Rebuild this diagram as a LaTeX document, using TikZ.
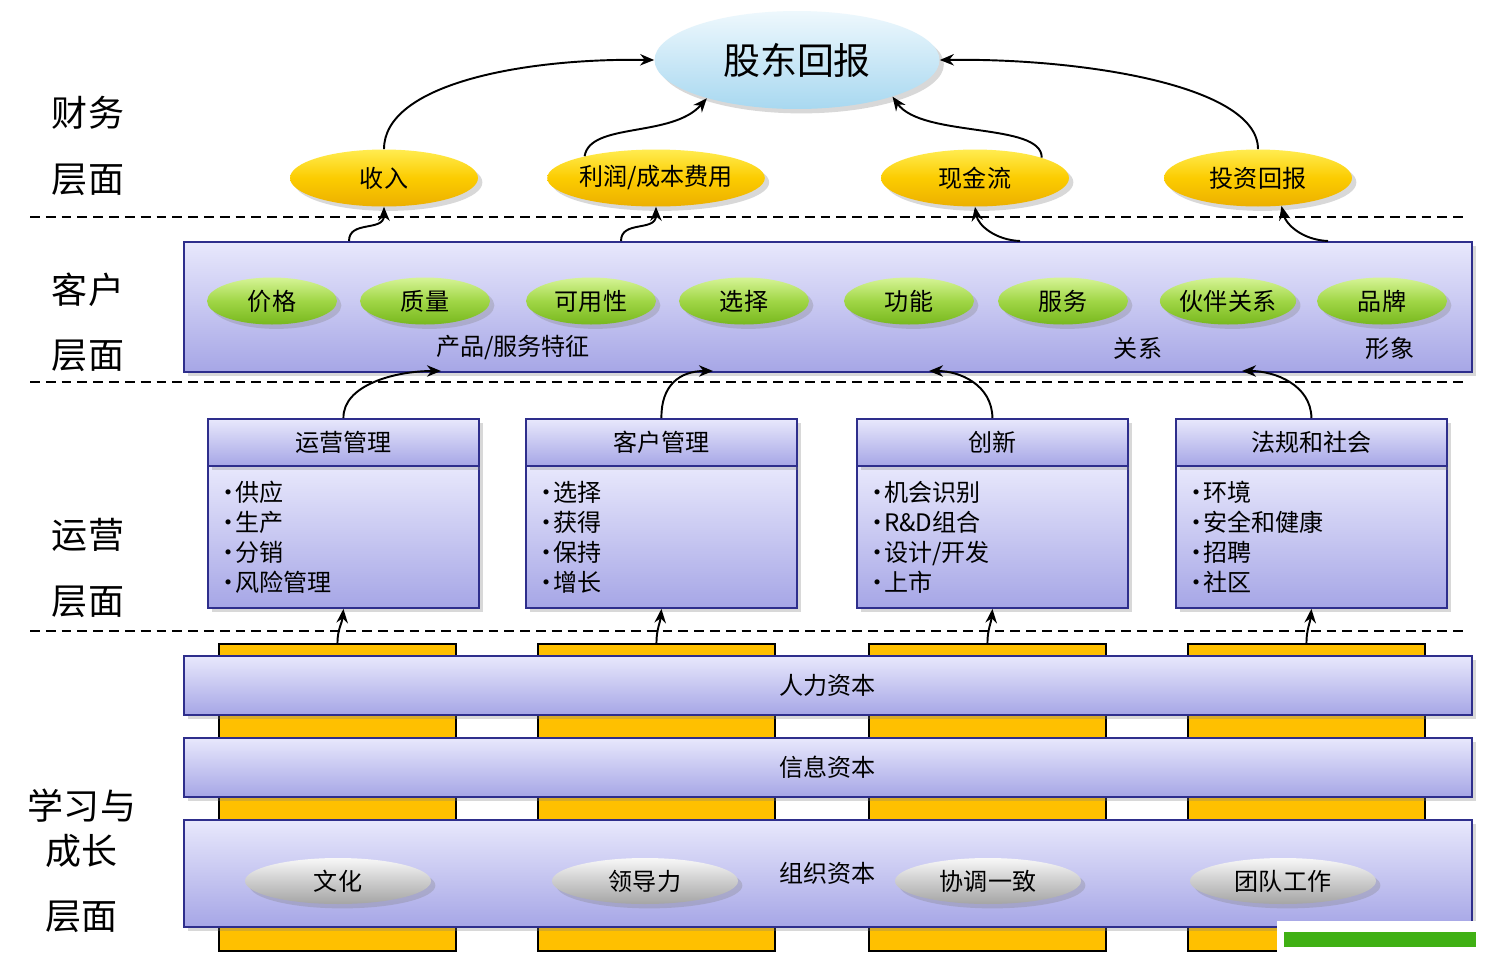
\documentclass[tikz,border=0pt]{standalone}
\usepackage{fontspec}
\setmainfont{Noto Sans CJK SC}
\usetikzlibrary{shapes.geometric,shadows,arrows.meta}
\definecolor{navy}{RGB}{46,46,140}
\definecolor{lavtop}{RGB}{232,232,252}
\definecolor{lavbot}{RGB}{166,166,230}
\definecolor{barfill}{RGB}{255,192,0}
\definecolor{goldtop}{RGB}{255,236,80}
\definecolor{goldmid}{RGB}{252,204,0}
\definecolor{goldbot}{RGB}{236,176,0}
\definecolor{greentop}{RGB}{214,244,150}
\definecolor{greenmid}{RGB}{160,214,70}
\definecolor{greenbot}{RGB}{120,184,30}
\definecolor{graytop}{RGB}{248,248,248}
\definecolor{graymid}{RGB}{205,205,205}
\definecolor{graybot}{RGB}{165,165,165}
\definecolor{bluetop}{RGB}{238,248,253}
\definecolor{bluebot}{RGB}{168,216,240}
\definecolor{wmgreen}{RGB}{64,176,20}
\newcommand{\fsz}[1]{\fontsize{#1}{#1}\selectfont}
\newcommand{\bul}{\makebox[0.5em][c]{•}}
\begin{document}
\begin{tikzpicture}[x=0.02cm,y=-0.02cm,
  conn/.style={line width=1.1pt,-{Stealth[length=8pt,width=6.5pt]}},
  sepline/.style={line width=1.1pt,dash pattern=on 5.6pt off 3.4pt},
  shad/.style={drop shadow={opacity=0.3,shadow xshift=2.5pt,shadow yshift=-2.5pt}},
  lav/.style={draw=navy,line width=1.1pt,top color=lavtop,bottom color=lavbot,shad},
  band/.style={lav,rectangle,anchor=north west,inner sep=0,minimum width=25.76cm,font=\fsz{13.7}},
  bar/.style={draw=black,line width=1.1pt,fill=barfill,rectangle,anchor=north west,inner sep=0,minimum width=4.74cm,minimum height=6.14cm},
  head/.style={lav,rectangle,anchor=north west,inner sep=0,minimum width=5.42cm,minimum height=0.94cm,font=\fsz{13.7}},
  body/.style={lav,rectangle,anchor=north west,inner xsep=0.3cm,inner ysep=0,text width=4.82cm,minimum height=2.84cm,align=left,font=\fontsize{13.7}{17.07}\selectfont},
  topell/.style={ellipse,inner sep=0,minimum width=5.7cm,minimum height=1.96cm,top color=bluetop,bottom color=bluebot,shad,font=\fsz{21}},
  goldell/.style={ellipse,inner sep=0,minimum width=3.76cm,minimum height=1.14cm,top color=goldtop,bottom color=goldbot,middle color=goldmid,shad,font=\fsz{13.7}},
  greenell/.style={ellipse,inner sep=0,minimum width=2.6cm,minimum height=0.94cm,top color=greentop,bottom color=greenbot,middle color=greenmid,shad,font=\fsz{13.7}},
  grayell/.style={ellipse,inner sep=0,minimum width=3.72cm,minimum height=0.92cm,top color=graytop,bottom color=graybot,middle color=graymid,shad,font=\fsz{13.7}},
  layer/.style={font=\fsz{20.5},inner sep=0},
  plain/.style={font=\fsz{13.7},inner sep=0}]
\useasboundingbox (0,0) rectangle (1485,961);
\fill[white] (0,0) rectangle (1485,961);

% separators
\draw[sepline] (30,217) -- (1468,217);
\draw[sepline] (30,382) -- (1468,382);
\draw[sepline] (30,631) -- (1468,631);

% layer labels
\node[layer] (l1a) at (88,113) {财务};
\node[layer] (l1b) at (88,180) {层面};
\node[layer] (l2a) at (88,290) {客户};
\node[layer] (l2b) at (88,356) {层面};
\node[layer] (l3a) at (88,535) {运营};
\node[layer] (l3b) at (88,602) {层面};
\node[layer] (l4a) at (82,806) {学习与};
\node[layer] (l4b) at (82,851) {成长};
\node[layer] (l4c) at (82,917) {层面};

% finance
\node[topell] (top) at (797,60) {股东回报};
\node[goldell] (shou) at (384,178) {收入};
\node[goldell] (lirun) at (656,178) {利润/成本费用};
\node[goldell] (xjl) at (975,178) {现金流};
\node[goldell] (tz) at (1258,178) {投资回报};

\draw[conn] (shou.north) .. controls (384,85) and (520,58) .. (top.180);
\draw[conn] (lirun.163) .. controls (590,122) and (672,138) .. (top.203);
\draw[conn] (xjl.17) .. controls (1042,122) and (922,138) .. (top.-21);
\draw[conn] (tz.north) .. controls (1258,85) and (1080,58) .. (top.0);

% customer
\node[lav,rectangle,anchor=north west,inner sep=0,minimum width=25.76cm,minimum height=2.6cm] (kehu) at (183,241) {};
\node[greenell] (e1) at (272,301) {价格};
\node[greenell] (e2) at (425,301) {质量};
\node[greenell] (e3) at (591,301) {可用性};
\node[greenell] (e4) at (744,301) {选择};
\node[greenell] (e5) at (909,301) {功能};
\node[greenell] (e6) at (1063,301) {服务};
\node[greenell] (e7) at (1228,301) {伙伴关系};
\node[greenell] (e8) at (1382,301) {品牌};
\node[plain] (cp) at (513,348) {产品/服务特征};
\node[plain] (gx) at (1138,348) {关系};
\node[plain] (xx) at (1390,348) {形象};

\coordinate (k1) at (349,241);
\coordinate (k2) at (621,241);
\coordinate (k3) at (1020,241);
\coordinate (k4) at (1328,241);
\draw[conn] (k1) .. controls (349,220) and (384,232) .. (shou.south);
\draw[conn] (k2) .. controls (621,220) and (656,232) .. (lirun.south);
\draw[conn] (k3) .. controls (995,240) and (978,225) .. (xjl.south);
\draw[conn] (k4) .. controls (1303,240) and (1286,225) .. (tz.-50);

% operations
\node[body] (b1) at (207,465) {\bul 供应\\\bul 生产\\\bul 分销\\\bul 风险管理};
\node[head] (h1) at (207,418) {运营管理};
\node[body] (b2) at (525,465) {\bul 选择\\\bul 获得\\\bul 保持\\\bul 增长};
\node[head] (h2) at (525,418) {客户管理};
\node[body] (b3) at (856,465) {\bul 机会识别\\\bul R\&D组合\\\bul 设计/开发\\\bul 上市};
\node[head] (h3) at (856,418) {创新};
\node[body] (b4) at (1175,465) {\bul 环境\\\bul 安全和健康\\\bul 招聘\\\bul 社区};
\node[head] (h4) at (1175,418) {法规和社会};

\coordinate (c1) at (441,371);
\coordinate (c2) at (713,371);
\coordinate (c3) at (929,371);
\coordinate (c4) at (1242,371);
\draw[conn] (h1.north) .. controls (343,385) and (395,371) .. (c1);
\draw[conn] (h2.north) .. controls (661,385) and (680,371) .. (c2);
\draw[conn] (h3.north) .. controls (992,385) and (960,371) .. (c3);
\draw[conn] (h4.north) .. controls (1311,385) and (1275,371) .. (c4);

% learning and growth
\node[bar] (g1) at (218,643) {};
\node[bar] (g2) at (537,643) {};
\node[bar] (g3) at (868,643) {};
\node[bar] (g4) at (1187,643) {};

\draw[conn] (g1.north) to[out=90,in=-95] (b1.south);
\draw[conn] (g2.north) to[out=90,in=-95] (b2.south);
\draw[conn] (g3.north) to[out=90,in=-95] (b3.south);
\draw[conn] (g4.north) to[out=90,in=-95] (b4.south);

\node[band,minimum height=1.18cm] (rl) at (183,655) {人力资本};
\node[band,minimum height=1.18cm] (xx2) at (183,737) {信息资本};
\node[band,minimum height=2.14cm] (zz) at (183,819) {组织资本};
\node[grayell] (q1) at (338,881) {文化};
\node[grayell] (q2) at (645,881) {领导力};
\node[grayell] (q3) at (988,881) {协调一致};
\node[grayell] (q4) at (1283,881) {团队工作};

% corner mark
\fill[white] (1277,921) rectangle (1485,961);
\fill[wmgreen] (1284,932) rectangle (1476,947);
\end{tikzpicture}
\end{document}
